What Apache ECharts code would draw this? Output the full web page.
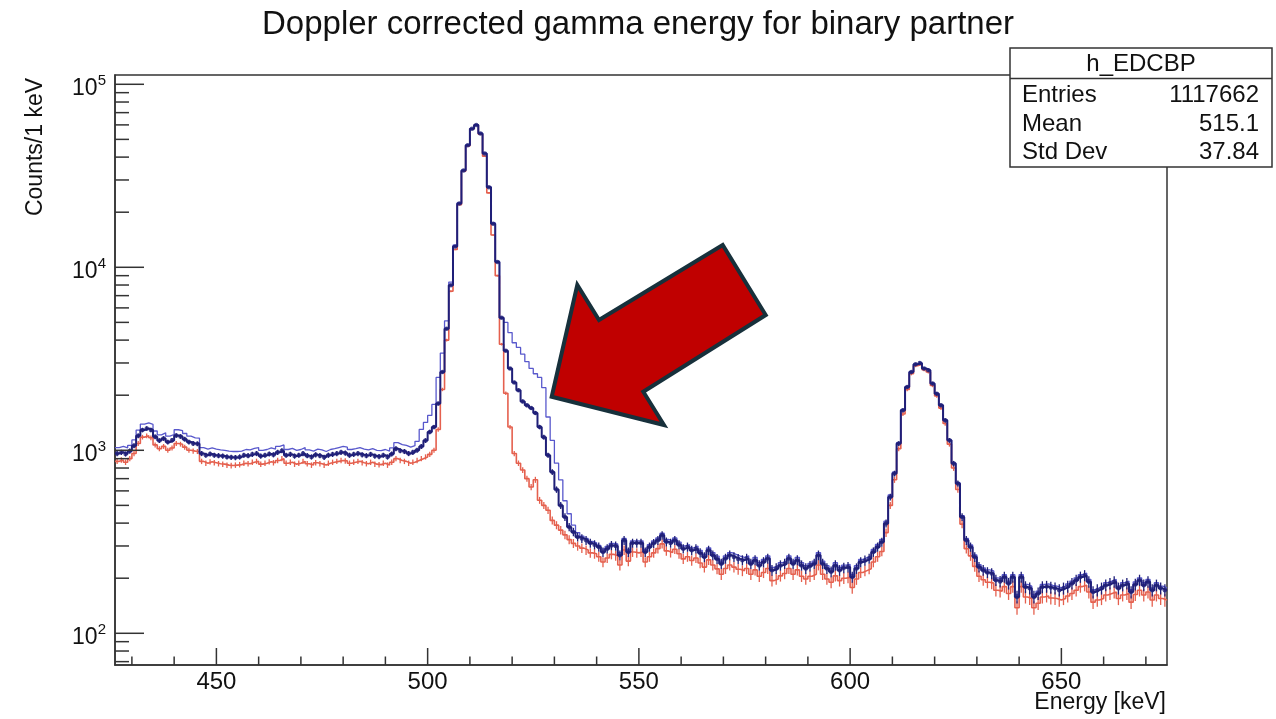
<!DOCTYPE html>
<html><head><meta charset="utf-8">
<script src="https://cdn.jsdelivr.net/npm/echarts@6/dist/echarts.min.js"></script>
<style>html,body{margin:0;padding:0;background:#fff}#c{width:1276px;height:719px}</style>
</head><body><div id="c"></div>
<script>
// ---- data: 1 keV bins, first bin lower edge = binStart ----
const binStart = 426;
const binWidth = 1;

// dark blue histogram (with markers and error bars)
const navyCounts = [
 960, 975, 955, 990,1060,1200,1290,1315,1290,1185, // 426
1130,1160,1110,1135,1205,1190,1150,1110,1090,1085, // 436
 960, 940, 955, 940, 935, 930, 920, 915, 912, 920, // 446
 940, 935, 950, 960, 930, 940, 955, 945, 975, 995, // 456
 940, 950, 930, 940, 960, 935, 920, 945, 935, 915, // 466
 940, 950, 960, 975, 965, 940, 950, 960, 945, 935, // 476
 950, 930, 925, 940, 920, 955,1020, 995, 985, 960, // 486
 975,1000,1050,1130,1260,1340,1800,2675,4620,7970, // 496
13000,22300,33800,46400,57200,60000,53800,41800,27400,17300, // 506
10680,5300,3500,2800,2350,2130,1850,1760,1700,1600, // 516
1340,1180, 940, 760, 610, 500, 432, 381, 358, 336, // 526
 330, 322, 311, 305, 296, 278, 290, 302, 300, 267, // 536
 322, 278, 311, 311, 311, 278, 296, 310, 322, 343, // 546
 316, 311, 322, 305, 290, 296, 284, 290, 275, 261, // 556
 284, 267, 255, 240, 256, 267, 261, 255, 251, 256, // 566
 240, 251, 235, 245, 256, 221, 226, 235, 240, 256, // 576
 240, 251, 235, 226, 233, 240, 267, 240, 226, 217, // 586
 235, 221, 228, 230, 203, 226, 245, 250, 256, 278, // 596
 296, 315, 398, 556, 746,1088,1654,2217,2676,2950, // 606
3000,2800,2735,2315,2040,1762,1459,1134, 846, 658, // 616
 432, 322, 296, 261, 230, 221, 215, 212, 195, 192, // 626
 203, 187, 203, 158, 203, 179, 176, 158, 165, 179, // 636
 180, 178, 176, 172, 176, 180, 187, 195, 203, 207, // 646
 191, 168, 172, 176, 183, 187, 191, 176, 183, 187, // 656
 168, 185, 195, 183, 191, 172, 183, 176, 172       // 666
];

// red histogram (lowest, with error bars)
const redCounts = [
 870, 885, 860, 900, 960,1090,1180,1200,1170,1070,
1020,1050,1000,1030,1090,1080,1040,1000, 990, 985,
 870, 850, 865, 855, 845, 840, 830, 825, 830, 835,
 850, 845, 860, 870, 840, 850, 865, 855, 880, 900,
 850, 860, 840, 850, 870, 845, 830, 855, 845, 830,
 850, 860, 870, 880, 875, 850, 860, 870, 855, 845,
 860, 840, 835, 850, 830, 860, 900, 880, 870, 850,
 860, 880, 900, 920, 950,1000,1300,2150,4000,7400,
12500,22000,33500,46000,57000,59800,53300,40500,25500,15000,
9000,3800,2050,1340, 960, 850, 780, 700, 630, 690,
 533, 500, 470, 414, 390, 366, 345, 325, 310, 300,
 292, 285, 275, 272, 262, 245, 258, 270, 265, 236,
 285, 248, 278, 275, 278, 245, 262, 275, 290, 308,
 282, 276, 288, 272, 255, 262, 250, 258, 242, 230,
 252, 236, 225, 210, 226, 236, 230, 224, 220, 226,
 210, 222, 205, 215, 226, 194, 198, 206, 212, 226,
 210, 222, 205, 198, 205, 210, 236, 210, 198, 190,
 206, 194, 200, 202, 178, 198, 215, 220, 225, 245,
 262, 280, 355, 500, 690,1020,1580,2150,2620,2900,
2960,2760,2680,2260,1980,1700,1400,1080, 800, 610,
 395, 290, 265, 232, 205, 196, 190, 188, 172, 170,
 180, 165, 180, 138, 180, 158, 155, 138, 146, 158,
 160, 156, 155, 152, 155, 160, 165, 172, 180, 183,
 168, 148, 152, 155, 162, 165, 168, 155, 162, 165,
 148, 163, 172, 162, 168, 152, 162, 155, 152
];

// thin blue histogram outline (highest in the shoulder)
const blueCounts = [
1035,1050,1030,1065,1140,1290,1390,1410,1385,1275,
1215,1245,1195,1220,1295,1280,1235,1195,1170,1165,
1035,1015,1030,1015,1005,1000, 990, 985, 985, 990,
1010,1005,1025,1035,1000,1010,1030,1015,1050,1070,
1010,1025,1000,1010,1035,1005, 990,1015,1005, 985,
1010,1020,1035,1050,1040,1010,1020,1035,1015,1005,
1020,1000, 995,1010, 990,1030,1100,1075,1065,1040,
1060,1120,1300,1420,1550,1780,2500,3400,5100,8300,
13200,22500,34000,46600,57300,60100,54000,42000,27600,17500,
10800,5300,5000,4400,3870,3650,3350,3050,2800,2620,
2500,2200,1520,1134, 850, 690, 530, 450, 390, 355,
 340, 330, 318, 312, 302, 288, 298, 310, 308, 276,
 330, 287, 320, 320, 320, 287, 305, 320, 332, 352,
 326, 320, 332, 315, 300, 305, 293, 300, 284, 270,
 293, 276, 264, 248, 265, 276, 270, 264, 260, 265,
 248, 260, 243, 253, 265, 229, 234, 243, 248, 265,
 248, 260, 243, 234, 241, 248, 276, 248, 234, 225,
 243, 229, 236, 238, 210, 234, 253, 259, 265, 287,
 306, 326, 410, 570, 760,1100,1665,2225,2685,2955,
3005,2805,2740,2320,2045,1770,1465,1140, 852, 665,
 440, 330, 304, 268, 237, 228, 222, 219, 201, 198,
 209, 193, 209, 163, 209, 185, 181, 163, 170, 185,
 186, 183, 181, 177, 181, 186, 193, 201, 209, 213,
 197, 173, 177, 181, 189, 193, 197, 181, 189, 193,
 173, 191, 201, 189, 197, 177, 189, 181, 177
];

// axis ticks / labels
const xMajorTicks = [450, 500, 550, 600, 650];
const xMinorTicks = [430, 440, 460, 470, 480, 490, 510, 520, 530, 540, 560, 570, 580, 590, 610, 620, 630, 640, 660, 670];
const yMajorTicks = [100, 1000, 10000, 100000];
const yMinorTicks = [70, 80, 90, 200, 300, 400, 500, 600, 700, 800, 900,
  2000, 3000, 4000, 5000, 6000, 7000, 8000, 9000,
  20000, 30000, 40000, 50000, 60000, 70000, 80000, 90000];

const titleText = 'Doppler corrected gamma energy for binary partner';
const statsRows = [['Entries', '1117662'], ['Mean', '515.1'], ['Std Dev', '37.84']];

// ---- layout / style ----
const X_MIN = 426, X_MAX = 675, Y_MIN = 67.1, Y_MAX = 112400;
const FONT = 'Liberation Sans';
const NAVY = '#1f1f78', BLUE = '#5858cc', RED = '#e5604e', AXIS = '#333';

const nBins = navyCounts.length;
function stepData(vals) {
  const d = vals.map((v, i) => [binStart + i * binWidth, v]);
  d.push([binStart + nBins * binWidth, vals[nBins - 1]]);
  return d;
}
function centerData(vals) { return vals.map((v, i) => [binStart + (i + 0.5) * binWidth, v]); }
function errData(vals) { return vals.map((v, i) => { const s = Math.sqrt(v); return [binStart + (i + 0.5) * binWidth, v - s, v + s]; }); }

function errSeries(vals, color, width, z) {
  return {
    type: 'custom', data: errData(vals), encode: { x: 0, y: [1, 2] }, z: z, silent: true, clip: true,
    renderItem: (params, api) => {
      const x = api.value(0);
      const p1 = api.coord([x, api.value(1)]);
      const p2 = api.coord([x, api.value(2)]);
      return { type: 'line', shape: { x1: p1[0], y1: p1[1], x2: p2[0], y2: p2[1] }, style: { stroke: color, lineWidth: width } };
    }
  };
}
function xTickSeries(vals, len) {
  return {
    type: 'custom', data: vals.map(v => [v, Y_MIN]), encode: { x: 0, y: 1 }, z: 20, silent: true, clip: false,
    renderItem: (params, api) => {
      const p = api.coord([api.value(0), api.value(1)]);
      const yb = params.coordSys.y + params.coordSys.height;
      return { type: 'line', shape: { x1: p[0], y1: yb, x2: p[0], y2: yb - len }, style: { stroke: AXIS, lineWidth: 1.5 } };
    }
  };
}
function yTickSeries(vals, len) {
  return {
    type: 'custom', data: vals.map(v => [X_MIN, v]), encode: { x: 0, y: 1 }, z: 20, silent: true, clip: false,
    renderItem: (params, api) => {
      const p = api.coord([api.value(0), api.value(1)]);
      const xl = params.coordSys.x;
      return { type: 'line', shape: { x1: xl, y1: p[1], x2: xl + len, y2: p[1] }, style: { stroke: AXIS, lineWidth: 1.5 } };
    }
  };
}

const chart = echarts.init(document.getElementById('c'), null, { renderer: 'canvas' });

const arrowPts = [[551.7, 396.7], [577.3, 285], [599, 320], [722.7, 245], [765.7, 315], [643.3, 391.7], [664, 425]];

const graphics = [
  { type: 'text', x: 36, y: 147, rotation: Math.PI / 2, z: 100,
    style: { text: 'Counts/1 keV', fontSize: 23, fontFamily: FONT, fill: '#111', textAlign: 'center', textVerticalAlign: 'middle' } },
  { type: 'text', x: 1166, y: 703, z: 100,
    style: { text: 'Energy [keV]', fontSize: 23, fontFamily: FONT, fill: '#111', textAlign: 'right', textVerticalAlign: 'middle' } },
  { type: 'polygon', z: 100, shape: { points: arrowPts },
    style: { fill: '#c00000', stroke: '#17303b', lineWidth: 4, lineJoin: 'miter' } },
  { type: 'rect', z: 100, shape: { x: 1010, y: 48, width: 262, height: 119 },
    style: { fill: '#fff', stroke: AXIS, lineWidth: 1.5 } },
  { type: 'line', z: 101, shape: { x1: 1010, y1: 78.5, x2: 1272, y2: 78.5 }, style: { stroke: AXIS, lineWidth: 1.5 } },
  { type: 'text', x: 1141, y: 64, z: 101,
    style: { text: 'h_EDCBP', fontSize: 24, fontFamily: FONT, fill: '#111', textAlign: 'center', textVerticalAlign: 'middle' } }
];
const rowY = [95, 124, 152.5];
statsRows.forEach((r, i) => {
  graphics.push({ type: 'text', x: 1022, y: rowY[i], z: 101,
    style: { text: r[0], fontSize: 24, fontFamily: FONT, fill: '#111', textAlign: 'left', textVerticalAlign: 'middle' } });
  graphics.push({ type: 'text', x: 1259, y: rowY[i], z: 101,
    style: { text: r[1], fontSize: 24, fontFamily: FONT, fill: '#111', textAlign: 'right', textVerticalAlign: 'middle' } });
});

chart.setOption({
  animation: false,
  backgroundColor: '#fff',
  title: { text: titleText, left: 'center', top: 3,
    textStyle: { fontSize: 33, fontWeight: 'normal', color: '#111', fontFamily: FONT } },
  grid: { left: 115, right: 109, top: 75, bottom: 54, show: true, borderColor: AXIS, borderWidth: 1.5,
    containLabel: false, outerBoundsMode: 'none' },
  xAxis: {
    type: 'value', min: X_MIN, max: X_MAX, splitNumber: 5,
    axisLine: { show: true, onZero: false, lineStyle: { color: AXIS, width: 1.5 } },
    axisTick: { show: false }, splitLine: { show: false },
    axisLabel: { show: true, margin: 5, fontSize: 24, fontFamily: FONT, color: '#111',
      showMinLabel: false, showMaxLabel: false,
      formatter: v => (xMajorTicks.indexOf(Math.round(v)) >= 0 && Math.abs(v - Math.round(v)) < 1e-6) ? String(Math.round(v)) : '' }
  },
  yAxis: {
    type: 'log', logBase: 10, min: Y_MIN, max: Y_MAX,
    axisLine: { show: true, onZero: false, lineStyle: { color: AXIS, width: 1.5 } },
    axisTick: { show: false }, splitLine: { show: false },
    axisLabel: { show: true, margin: 9, color: '#111', fontFamily: FONT, padding: [8, 0, 0, 0],
      showMinLabel: false, showMaxLabel: false,
      formatter: v => {
        const e = Math.log10(v);
        if (Math.abs(e - Math.round(e)) < 1e-6) return '{b|10}{s|' + Math.round(e) + '}';
        return '';
      },
      rich: {
        b: { fontSize: 23, fontFamily: FONT, color: '#111', lineHeight: 30 },
        s: { fontSize: 15, fontFamily: FONT, color: '#111', lineHeight: 15, verticalAlign: 'top' }
      }
    }
  },
  series: [
    { type: 'line', name: 'red', data: stepData(redCounts), step: 'end', showSymbol: false, symbol: 'none',
      lineStyle: { color: RED, width: 1.6 }, z: 3, silent: true },
    errSeries(redCounts, RED, 1.3, 3),
    { type: 'line', name: 'blue', data: stepData(blueCounts), step: 'end', showSymbol: false, symbol: 'none',
      lineStyle: { color: BLUE, width: 1.3 }, z: 4, silent: true },
    { type: 'line', name: 'navy', data: stepData(navyCounts), step: 'end', showSymbol: false, symbol: 'none',
      lineStyle: { color: NAVY, width: 2 }, z: 5, silent: true },
    errSeries(navyCounts, NAVY, 1.3, 5),
    { type: 'scatter', name: 'navyPts', data: centerData(navyCounts), symbol: 'circle', symbolSize: 4.5,
      itemStyle: { color: NAVY }, z: 6, silent: true },
    xTickSeries(xMajorTicks, 17),
    xTickSeries(xMinorTicks, 8.5),
    yTickSeries(yMajorTicks, 29),
    yTickSeries(yMinorTicks, 14)
  ],
  graphic: graphics
});
</script>
</body></html>
